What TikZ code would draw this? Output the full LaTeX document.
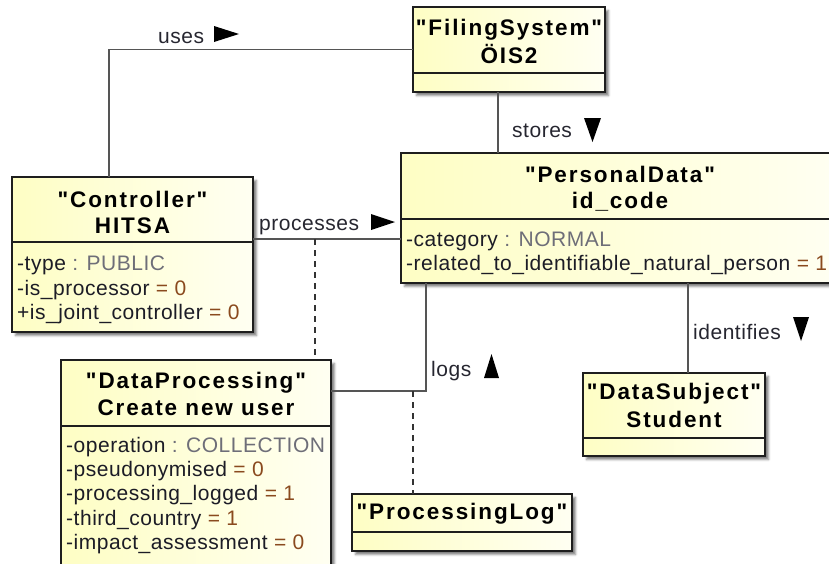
\documentclass[tikz,border=0pt]{standalone}
\usepackage{fontspec}
\setmainfont{Liberation Sans}
\newfontfamily\attrfont[LetterSpace=2.5]{Liberation Sans}
\newfontfamily\headfont[LetterSpace=8.5]{Liberation Sans}
\usetikzlibrary{shadows.blur}

\definecolor{boxline}{HTML}{1E1E1E}
\definecolor{connline}{HTML}{555555}
\definecolor{dashline}{HTML}{333333}
\definecolor{fillL}{HTML}{FEFEC4}
\definecolor{fillR}{HTML}{FFFFF2}
\definecolor{attrname}{HTML}{1C1C26}
\definecolor{enumgray}{HTML}{6E6E78}
\definecolor{numbrown}{HTML}{8A4A1E}
\definecolor{lbltext}{HTML}{262630}

\newcommand{\enumval}[1]{\textcolor{enumgray}{\ #1}}
\newcommand{\numval}[1]{\textcolor{numbrown}{\ #1}}

\tikzset{
  umlbox/.style={draw=boxline, line width=1.4pt, rectangle, anchor=north west,
    inner sep=0pt, outer sep=0pt, left color=fillL, right color=fillR,
    blur shadow={shadow xshift=3.5pt, shadow yshift=-3.5pt, shadow opacity=50, shadow blur steps=4}},
  head/.style={font=\headfont\bfseries\fontsize{22.5}{27}\selectfont, anchor=base,
    inner sep=0pt, text=black},
  attr/.style={font=\attrfont\fontsize{21}{24}\selectfont, anchor=base west,
    inner sep=0pt, text=attrname},
  lbl/.style={font=\attrfont\fontsize{21}{24}\selectfont, anchor=base west,
    inner sep=0pt, text=lbltext},
  divider/.style={draw=boxline, line width=1.3pt},
  assoc/.style={draw=connline, line width=1.3pt},
  classlink/.style={draw=dashline, line width=1.2pt, dash pattern=on 6pt off 5pt},
  navtip/.style={fill=black},
}

\begin{document}
\begin{tikzpicture}[x=1pt, y=-1pt]
\useasboundingbox (0,0) rectangle (829,563);
\clip (0,0) rectangle (829,563);

% ---------- classes ----------
\node[umlbox, minimum width=192pt, minimum height=85pt]  (fs)   at (413,7)   {};
\node[umlbox, minimum width=438pt, minimum height=130pt] (pd)   at (401,153) {};
\node[umlbox, minimum width=241pt, minimum height=155pt] (ctrl) at (12,177)  {};
\node[umlbox, minimum width=270pt, minimum height=215pt] (dp)   at (61,360)  {};
\node[umlbox, minimum width=182pt, minimum height=83pt]  (ds)   at (583,373) {};
\node[umlbox, minimum width=220pt, minimum height=57pt]  (pl)   at (352,494) {};

% compartment dividers
\draw[divider] ([yshift=-66pt]fs.north west)   -- ([yshift=-66pt]fs.north east);
\draw[divider] ([yshift=-66pt]pd.north west)   -- ([yshift=-66pt]pd.north east);
\draw[divider] ([yshift=-65pt]ctrl.north west) -- ([yshift=-65pt]ctrl.north east);
\draw[divider] ([yshift=-66pt]dp.north west)   -- ([yshift=-66pt]dp.north east);
\draw[divider] ([yshift=-65pt]ds.north west)   -- ([yshift=-65pt]ds.north east);
\draw[divider] ([yshift=-38pt]pl.north west)   -- ([yshift=-38pt]pl.north east);

% titles
\node[head] (fsT1)   at ([yshift=-28pt]fs.north)   {"FilingSystem"};
\node[head] (fsT2)   at ([yshift=-56pt]fs.north)   {ÖIS2};
\node[head] (pdT1)   at ([yshift=-29pt]pd.north)   {"PersonalData"};
\node[head] (pdT2)   at ([yshift=-55pt]pd.north)   {id\_code};
\node[head] (ctrlT1) at ([yshift=-30pt]ctrl.north) {"Controller"};
\node[head] (ctrlT2) at ([yshift=-56pt]ctrl.north) {HITSA};
\node[head] (dpT1)   at ([yshift=-28pt]dp.north)   {"DataProcessing"};
\node[head] (dpT2)   at ([yshift=-55pt]dp.north)   {Create new user};
\node[head] (dsT1)   at ([yshift=-26pt]ds.north)   {"DataSubject"};
\node[head] (dsT2)   at ([yshift=-54pt]ds.north)   {Student};
\node[head] (plT1)   at ([yshift=-25pt]pl.north)   {"ProcessingLog"};

% attributes
\node[attr] (ctrlA1) at ([xshift=5pt,yshift=-93pt]ctrl.north west)  {-type\enumval{: PUBLIC}};
\node[attr] (ctrlA2) at ([xshift=5pt,yshift=-118pt]ctrl.north west) {-is\_processor\numval{= 0}};
\node[attr] (ctrlA3) at ([xshift=5pt,yshift=-142pt]ctrl.north west) {+is\_joint\_controller\numval{= 0}};

\node[attr] (pdA1) at ([xshift=5pt,yshift=-93pt]pd.north west)  {-category\enumval{: NORMAL}};
\node[attr] (pdA2) at ([xshift=5pt,yshift=-117pt]pd.north west) {-related\_to\_identifiable\_natural\_person\numval{= 1}};

\node[attr] (dpA1) at ([xshift=5pt,yshift=-92pt]dp.north west)    {-operation\enumval{: COLLECTION}};
\node[attr] (dpA2) at ([xshift=5pt,yshift=-116pt]dp.north west)   {-pseudonymised\numval{= 0}};
\node[attr] (dpA3) at ([xshift=5pt,yshift=-140.5pt]dp.north west) {-processing\_logged\numval{= 1}};
\node[attr] (dpA4) at ([xshift=5pt,yshift=-165pt]dp.north west)   {-third\_country\numval{= 1}};
\node[attr] (dpA5) at ([xshift=5pt,yshift=-189pt]dp.north west)   {-impact\_assessment\numval{= 0}};

% ---------- associations ----------
% uses
\draw[assoc] ([xshift=97pt]ctrl.north west) |- (fs.west);
% stores
\coordinate (stA) at ([xshift=85pt]fs.south west);
\draw[assoc] (stA) -- (stA |- pd.north);
% processes
\coordinate (prA) at ([yshift=-62pt]ctrl.north east);
\draw[assoc] (prA) -- (prA -| pd.west);
% logs
\coordinate (lgA) at ([xshift=25pt]pd.south west);
\coordinate (lgB) at ([yshift=-31pt]dp.north east);
\draw[assoc] (lgA) |- (lgB);
% identifies
\coordinate (idA) at ([xshift=287pt]pd.south west);
\draw[assoc] (idA) -- (idA |- ds.north);

% association classes
\coordinate (dpLink) at ([xshift=254pt]dp.north west);
\draw[classlink] (dpLink |- prA) -- (dpLink);
\coordinate (plLink) at ([xshift=61pt]pl.north west);
\draw[classlink] (plLink |- lgB) -- (plLink);

% ---------- association names ----------
\node[lbl] (usesL)  at (158,43)  {uses};
\fill[navtip] (214,26) -- (239,34) -- (214,42) -- cycle;
\node[lbl] (storesL) at (512,137) {stores};
\fill[navtip] (584,118) -- (601,118) -- (592.5,142) -- cycle;
\node[lbl] (procL)  at (259,230) {processes};
\fill[navtip] (371,214) -- (395,222) -- (371,230) -- cycle;
\node[lbl] (logsL)  at (431,376) {logs};
\fill[navtip] (484,378) -- (499,378) -- (491.5,354) -- cycle;
\node[lbl] (idL)    at (693,339) {identifies};
\fill[navtip] (793,317) -- (809,317) -- (801,341) -- cycle;
\end{tikzpicture}
\end{document}
